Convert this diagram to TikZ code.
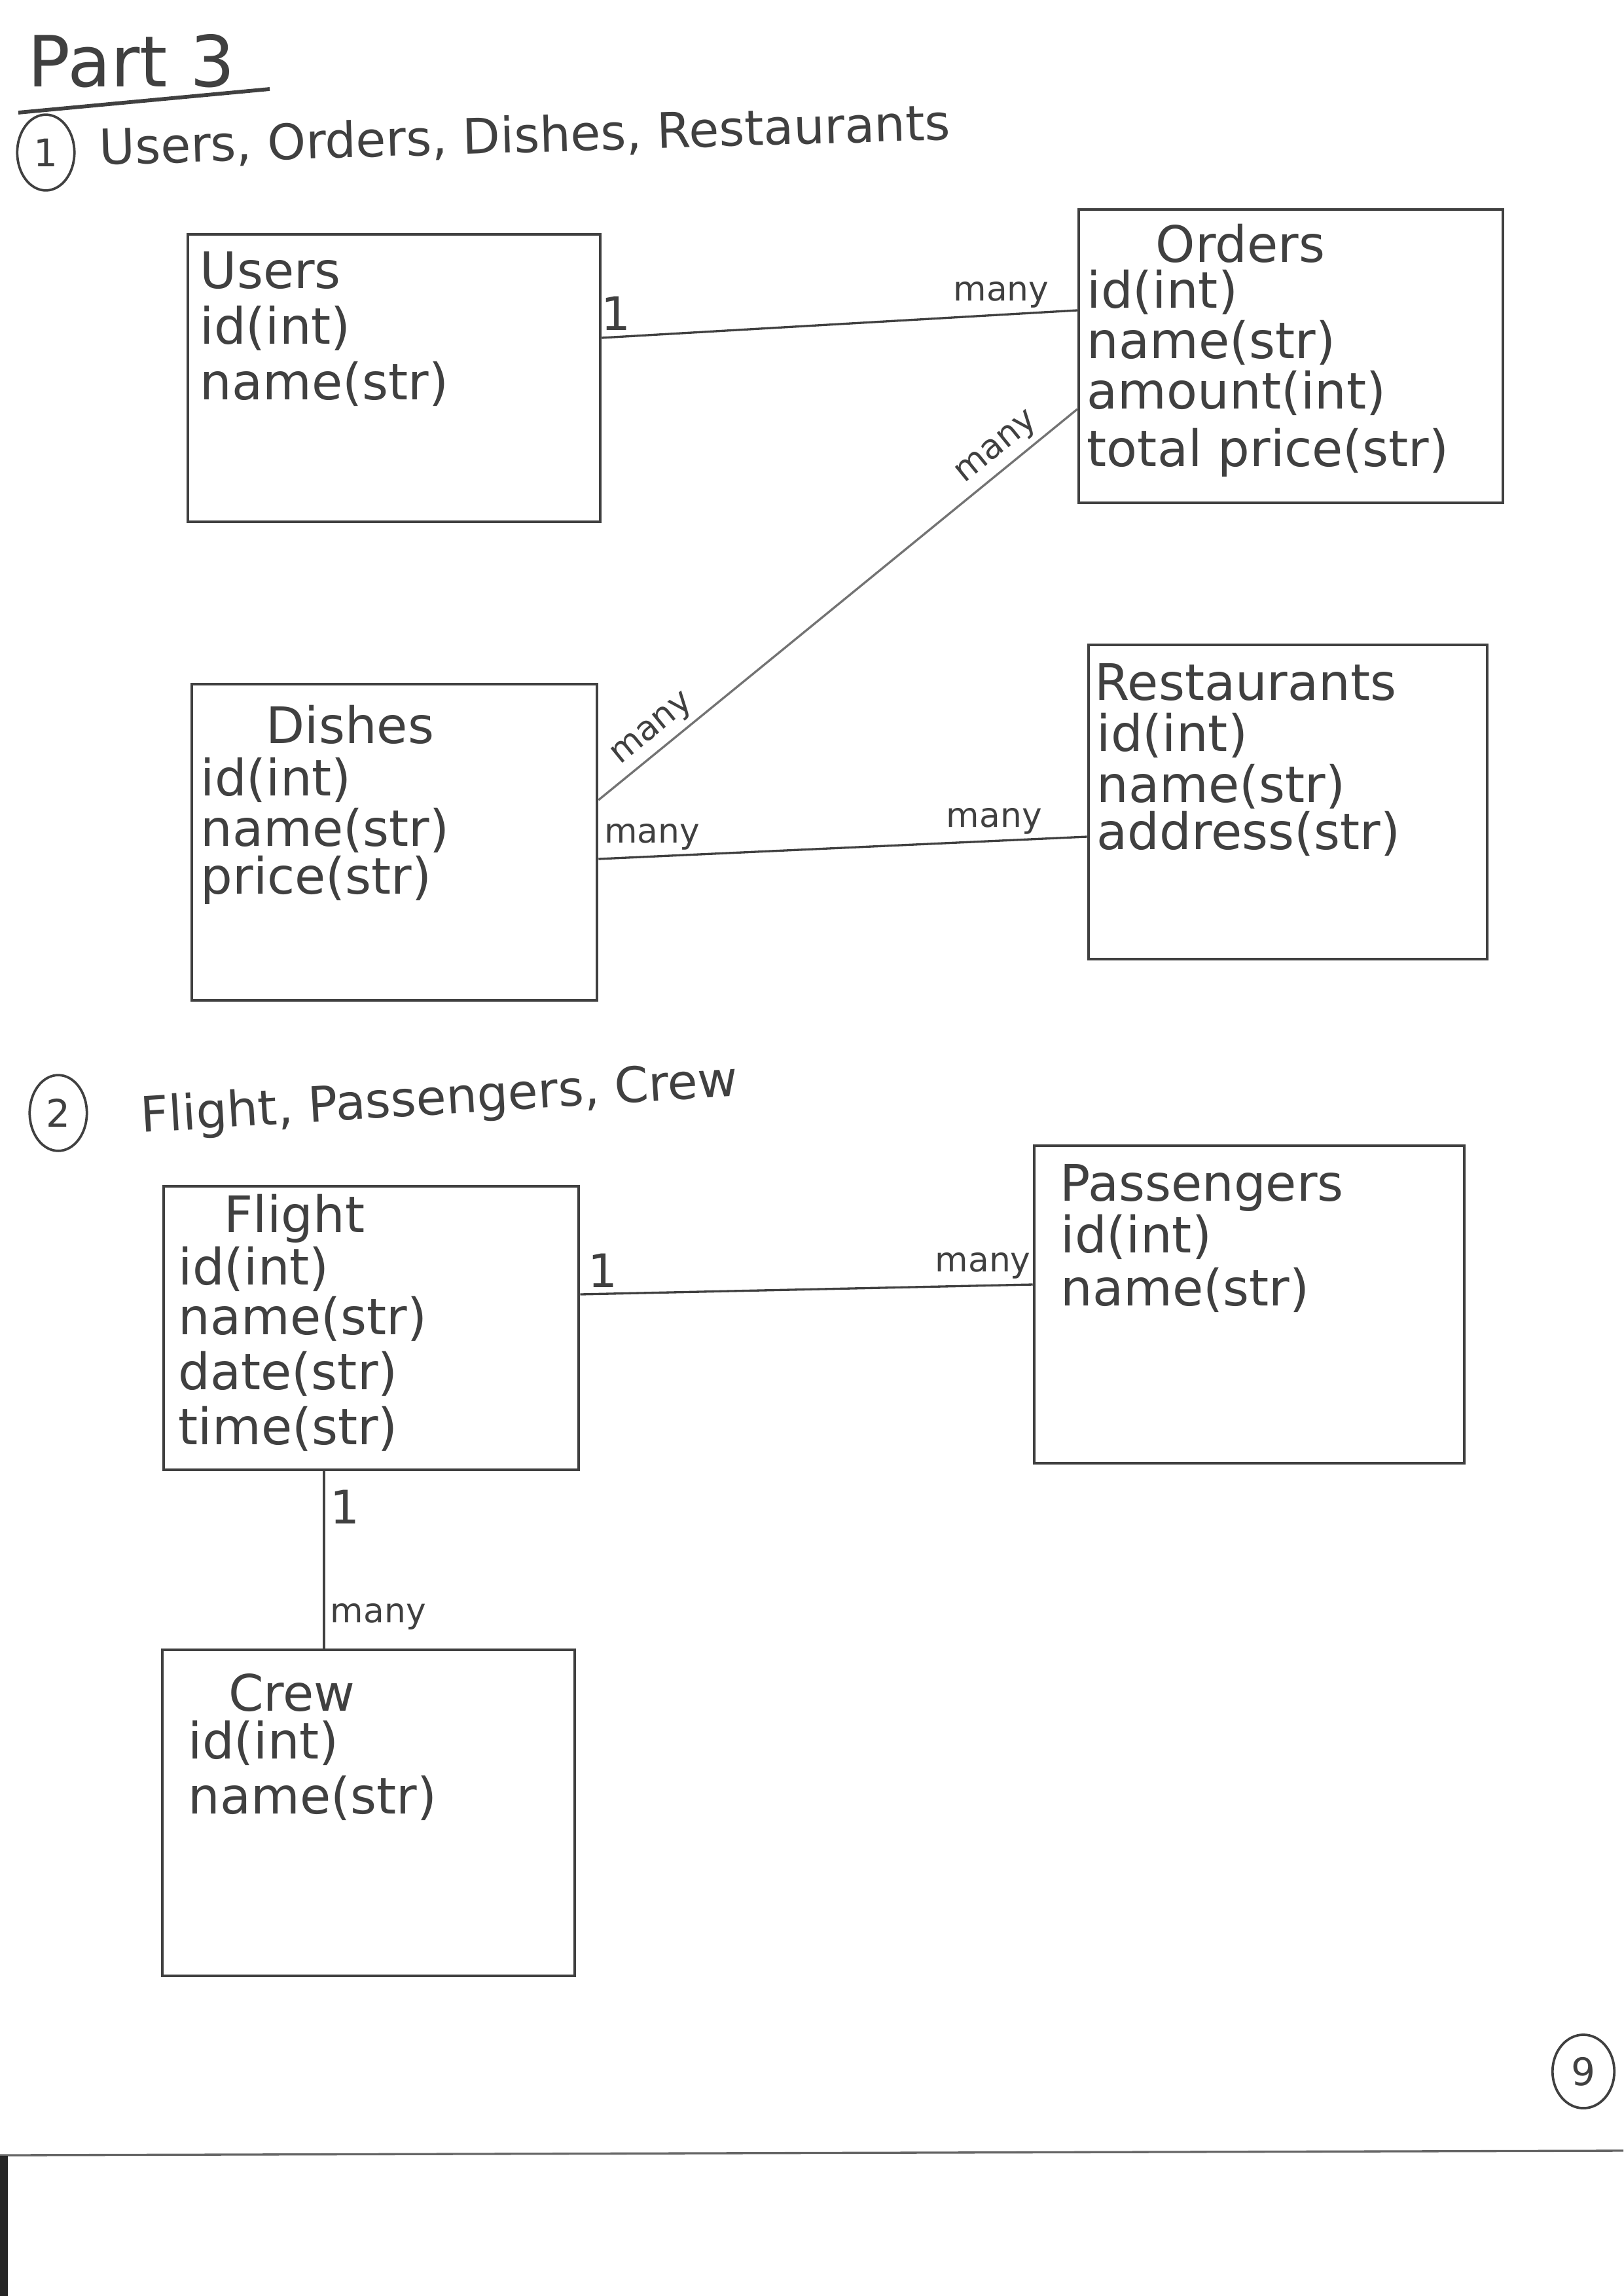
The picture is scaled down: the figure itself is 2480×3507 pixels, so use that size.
\documentclass[tikz,border=0pt]{standalone}
\usepackage{fontspec}
\setmainfont{DejaVu Sans}
\usetikzlibrary{fit,shapes.geometric}
\definecolor{pencil}{gray}{0.25}
\definecolor{pencillight}{gray}{0.45}
\tikzset{
  entity/.style={draw=pencil, line width=1.1pt, inner sep=0pt},
  attr/.style={font=\fontsize{18.5}{19}\selectfont, text=pencil, inner sep=0pt, anchor=base west},
  ttl/.style={font=\fontsize{18.5}{19}\selectfont, text=pencil, inner sep=0pt, anchor=base},
  head/.style={font=\fontsize{18}{19}\selectfont, text=pencil, inner sep=0pt, anchor=base west},
  rel/.style={draw=pencil, line width=0.8pt},
  lbl/.style={font=\fontsize{12.5}{13}\selectfont, text=pencil, inner sep=2pt},
  lblone/.style={lbl, font=\fontsize{17}{17}\selectfont},
  num/.style={draw=pencil, line width=0.9pt, ellipse, inner sep=0pt, minimum width=0.74cm, minimum height=0.98cm, font=\fontsize{14}{14}\selectfont, text=pencil},
}

\begin{document}
\begin{tikzpicture}[x=0.0084677cm, y=-0.0084677cm]
\useasboundingbox (0,0) rectangle (2480,3507);

% title and headings
\node[head, font=\fontsize{26}{26}\selectfont] (part) at (42,132) {Part 3};
\draw[pencil, line width=1.4pt] (28,172) -- (412,136);
\node[num] (num1) at (70,233) {1};
\node[head, rotate=1.7] (head1) at (152,252) {Users, Orders, Dishes, Restaurants};
\node[num] (num2) at (89,1700) {2};
\node[head, rotate=3.5] (head2) at (216,1730) {Flight, Passengers, Crew};

% part 1 entities
\node[entity, fit={(287,358) (917,797)}] (users) {};
\node[entity, fit={(1648,320) (2296,768)}] (orders) {};
\node[entity, fit={(293,1045) (912,1528)}] (dishes) {};
\node[entity, fit={(1663,985) (2272,1465)}] (rest) {};

\node[attr] (users-t) at (305,440) {Users};
\foreach \y/\t [count=\i] in {525/{id(int)}, 610/{name(str)}}
  \node[attr] (users-\i) at (305,\y) {\t};

\node[ttl] (orders-t) at (1895,400) {Orders};
\foreach \y/\t [count=\i] in {470/{id(int)}, 547/{name(str)}, 624/{amount(int)}, 712/{total price(str)}}
  \node[attr] (orders-\i) at (1660,\y) {\t};

\node[ttl] (dishes-t) at (535,1135) {Dishes};
\foreach \y/\t [count=\i] in {1215/{id(int)}, 1292/{name(str)}, 1365/{price(str)}}
  \node[attr] (dishes-\i) at (306,\y) {\t};

\node[attr] (rest-t) at (1672,1069) {Restaurants};
\foreach \y/\t [count=\i] in {1147/{id(int)}, 1225/{name(str)}, 1297/{address(str)}}
  \node[attr] (rest-\i) at (1675,\y) {\t};

% part 1 relations
\draw[rel] (users.east |- 0,516) -- node[lblone, pos=0.03, above] (uo-1) {1}
  node[lbl, pos=0.84, above] (uo-m) {many} (orders.west |- 0,474);
\draw[rel, draw=pencillight] (dishes.east |- 0,1222) -- node[lbl, sloped, above, pos=0.14] (do-d) {many}
  node[lbl, sloped, above, pos=0.86] (do-o) {many} (orders.west |- 0,625);
\draw[rel] (dishes.east |- 0,1312) -- node[lbl, pos=0.11, above] (dr-d) {many}
  node[lbl, pos=0.81, above] (dr-r) {many} (rest.west |- 0,1278);

% part 2 entities
\node[entity, fit={(250,1812) (884,2245)}] (flight) {};
\node[entity, fit={(1580,1750) (2237,2235)}] (pass) {};
\node[entity, fit={(248,2520) (878,3018)}] (crew) {};

\node[ttl] (flight-t) at (450,1882) {Flight};
\foreach \y/\t [count=\i] in {1962/{id(int)}, 2038/{name(str)}, 2122/{date(str)}, 2206/{time(str)}}
  \node[attr] (flight-\i) at (272,\y) {\t};

\node[ttl] (pass-t) at (1836,1834) {Passengers};
\foreach \y/\t [count=\i] in {1913/{id(int)}, 1994/{name(str)}}
  \node[attr] (pass-\i) at (1620,\y) {\t};

\node[ttl] (crew-t) at (446,2613) {Crew};
\foreach \y/\t [count=\i] in {2686/{id(int)}, 2770/{name(str)}}
  \node[attr] (crew-\i) at (287,\y) {\t};

% part 2 relations
\draw[rel] (flight.east |- 0,1977) -- node[lblone, pos=0.05, above] (fp-1) {1}
  node[lbl, pos=0.89, above] (fp-m) {many} (pass.west |- 0,1962);
\draw[rel] (flight.south -| 495,0) -- node[lblone, pos=0.2, right] (fc-1) {1}
  node[lbl, pos=0.82, right] (fc-m) {many} (crew.north -| 495,0);

% page number and scan edge
\node[num, minimum width=0.8cm, minimum height=0.95cm] (page) at (2419,3164) {9};
\draw[black!60, line width=0.8pt] (0,3292) -- (2480,3285);
\fill[black!85] (0,3293) rectangle (12,3507);
\end{tikzpicture}
\end{document}
